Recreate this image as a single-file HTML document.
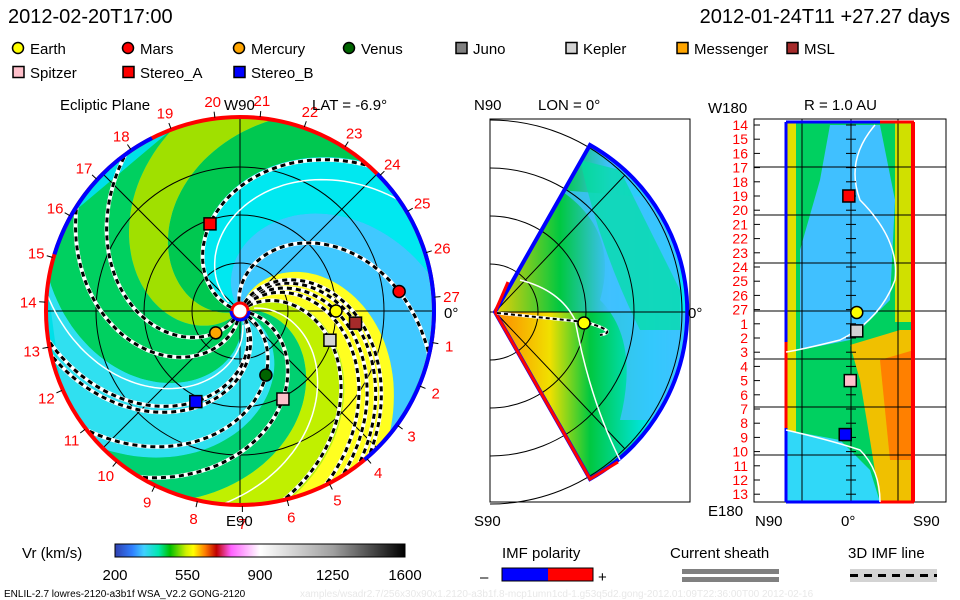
<!DOCTYPE html>
<html><head><meta charset="utf-8"><style>
body{margin:0;background:#fff;}
#wrap{position:relative;width:960px;height:600px;overflow:hidden;background:#fff;font-family:"Liberation Sans",sans-serif;}
svg text{font-family:"Liberation Sans",sans-serif;}
</style></head><body>
<div id="wrap">
<svg id="svg" width="960" height="600" viewBox="0 0 960 600" xmlns="http://www.w3.org/2000/svg">
<defs>
<clipPath id="diskClip"><circle cx="240" cy="311" r="193"/></clipPath>
<clipPath id="wedgeClip"><path d="M495,312 L590,145 A192,192 0 0 1 590,479 Z"/></clipPath>
<linearGradient id="cbar" x1="0" x2="1" y1="0" y2="0">
<stop offset="0" stop-color="#3040b0"/><stop offset="0.06" stop-color="#3080ff"/><stop offset="0.1" stop-color="#40d0ff"/><stop offset="0.15" stop-color="#00e8b0"/><stop offset="0.19" stop-color="#00c000"/><stop offset="0.245" stop-color="#d0f000"/><stop offset="0.27" stop-color="#ffff00"/><stop offset="0.31" stop-color="#ff8000"/><stop offset="0.35" stop-color="#c00000"/><stop offset="0.4" stop-color="#ff60ff"/><stop offset="0.5" stop-color="#ffffff"/><stop offset="0.75" stop-color="#a0a0a0"/><stop offset="1" stop-color="#000000"/>
</linearGradient>
<linearGradient id="midA" x1="0" x2="1" y1="0" y2="0"><stop offset="0" stop-color="#ffd000"/><stop offset="0.35" stop-color="#00c840"/><stop offset="0.6" stop-color="#40c0ff"/><stop offset="1" stop-color="#00e8f0"/></linearGradient>
<linearGradient id="midB" x1="0" x2="1" y1="0" y2="0"><stop offset="0" stop-color="#ff8000"/><stop offset="0.3" stop-color="#f0e000"/><stop offset="0.5" stop-color="#00c840"/><stop offset="0.8" stop-color="#00e8f0"/><stop offset="1" stop-color="#40c0ff"/></linearGradient>
</defs>
<g id="left"></g>
<g id="mid"></g>
<g id="right"></g>
<g id="legend"></g>
<g id="bottom"></g>
</svg>
</div>
<script>
// ---- data ----
const planetNames = ["Earth","Mars","Mercury","Venus","Juno","Kepler","Messenger","MSL","Spitzer","Stereo_A","Stereo_B"];
const planetColors = ["#ffff00","#ff0000","#ffa500","#006400","#808080","#d3d3d3","#ffa500","#a52a2a","#ffc0cb","#ff0000","#0000ff"];
const planetShapes = ["c","c","c","c","s","s","s","s","s","s","s"];
const planetR = [1.0,1.67,0.34,0.72,null,0.985,null,1.21,1.02,0.96,1.05];      // AU
const planetAngle = [0,7,222,-68,null,-18,null,-6,-64,109,244];               // deg
const bandStart = [-10,40,80,110,140,200,255,285,315];                          // deg at r=1.5AU
const bandEnd = [40,80,110,140,200,255,285,315,350];
const bandColors = ["#40c8ff","#00e8f0","#00c850","#a0e000","#00d060","#30e0f0","#00d070","#c0f000","#ffff20"];
const imfLineAngle = [0,7,222,-68,-64,-18,-6,109,244,-40,-30,160,200];        // deg at anchor
const imfLineR = [1.0,1.67,0.34,0.72,1.02,0.985,1.21,0.96,1.05,1.6,1.7,1.8,1.9];
const dayLabels = [1,2,3,4,5,6,7,8,9,10,11,12,13,14,15,16,17,18,19,20,21,22,23,24,25,26,27];
const rimBlue = [[117,163],[-50,45]];
const cbarTicks = [200,550,900,1250,1600];
const rowLabels = [14,15,16,17,18,19,20,21,22,23,24,25,26,27,1,2,3,4,5,6,7,8,9,10,11,12,13];
const rightMarkerLat = [8,null,null,null,null,8,null,null,-1,-3,-8];   // deg
const rightMarkerRow = [13.2,null,null,null,null,14.5,null,null,18.0,5.0,21.8];

const NS="http://www.w3.org/2000/svg";
function mk(tag,attrs,parent,txt){const e=document.createElementNS(NS,tag);for(const k in attrs)e.setAttribute(k,attrs[k]);if(txt!==undefined)e.textContent=txt;parent.appendChild(e);return e;}
const CX=240,CY=311,AU=96,K=57; // K deg per AU
const rad=d=>d*Math.PI/180;
const px=(r,a)=>CX+r*AU*Math.cos(rad(a));
const py=(r,a)=>CY-r*AU*Math.sin(rad(a));
function spiralPts(a0,r0,r1,n){const p=[];for(let i=0;i<=n;i++){const r=r0+(r1-r0)*i/n;const a=a0-K*r;p.push([px(r,a),py(r,a)]);}return p;}
const toD=p=>"M"+p.map(q=>q[0].toFixed(1)+","+q[1].toFixed(1)).join(" L");

// ---- left panel ----
const L=document.getElementById('left');
mk('circle',{cx:CX,cy:CY,r:193,fill:"#00e0e8"},L);
const bandG=mk('g',{'clip-path':'url(#diskClip)'},L);


for(let i=0;i<bandStart.length;i++){
  const a0=bandStart[i]+K*1.5, a1=bandEnd[i]+K*1.5;
  const e1=spiralPts(a0,0,2.2,60), e2=spiralPts(a1,0,2.2,60).reverse();
  const p=mk('path',{d:toD(e1.concat(e2))+"Z",fill:bandColors[i]},bandG);
  
  
}
// grid
const gridG=mk('g',{stroke:"#000","stroke-width":1,fill:"none"},L);


[0.5,1,1.5].forEach(r=>mk('circle',{cx:CX,cy:CY,r:r*AU},gridG));
[0,45,90,135].forEach(a=>mk('line',{x1:px(2,a),y1:py(2,a),x2:px(2,a+180),y2:py(2,a+180)},gridG));
// IMF lines
const imfG=mk('g',{'clip-path':'url(#diskClip)',fill:"none"},L);


for(let i=0;i<imfLineAngle.length;i++){
  const a0=imfLineAngle[i]+K*imfLineR[i];
  const d=toD(spiralPts(a0,0.1,2.05,60));
  mk('path',{d:d,stroke:"#fff","stroke-width":4},imfG);
  const b=mk('path',{d:d,stroke:"#000","stroke-width":3,"stroke-dasharray":"5,4"},imfG);
  
  
}
// white sector lines
[150,290,20].forEach((a,i)=>{const w=mk('path',{d:toD(spiralPts(a,0.15,2.05,60)),stroke:"#fff","stroke-width":1.5,fill:"none",'clip-path':'url(#diskClip)'},L);
  });
// rim
const rim=mk('circle',{cx:CX,cy:CY,r:194,fill:"none",stroke:"#ff0000","stroke-width":4},L);


rimBlue.forEach(s=>{const r=194;const x1=CX+r*Math.cos(rad(s[1])),y1=CY-r*Math.sin(rad(s[1])),x2=CX+r*Math.cos(rad(s[0])),y2=CY-r*Math.sin(rad(s[0]));
  const large=(s[1]-s[0])>180?1:0;
  const a=mk('path',{d:`M${x1},${y1} A${r},${r} 0 ${large} 1 ${x2},${y2}`,fill:"none",stroke:"#0000ff","stroke-width":4},L);
  });
// day labels + ticks
dayLabels.forEach(n=>{const a=4-13.33*n;const t=mk('text',{x:CX+212*Math.cos(rad(a)),y:CY-212*Math.sin(rad(a))+6,'text-anchor':'middle','font-size':15,fill:"#ff0000"},L,String(n));
  
  mk('line',{x1:CX+195*Math.cos(rad(a)),y1:CY-195*Math.sin(rad(a)),x2:CX+201*Math.cos(rad(a)),y2:CY-201*Math.sin(rad(a)),stroke:"#000"},L);});
// sun
const sun=mk('circle',{cx:CX,cy:CY,r:8,fill:"#fff",stroke:"#ff0000","stroke-width":3},L);


mk('path',{d:`M${CX-9},${CY} A9,9 0 0 0 ${CX+9},${CY}`,fill:"none",stroke:"#0000ff","stroke-width":3},L);
// planets
function marker(g,shape,x,y,col,name){let e;
  if(shape==="c")e=mk('circle',{cx:x,cy:y,r:6,fill:col,stroke:"#000","stroke-width":1.5},g);
  else e=mk('rect',{x:x-6,y:y-6,width:12,height:12,fill:col,stroke:"#000","stroke-width":1.5},g);
  
  
  return e;}
planetNames.forEach((n,i)=>{if(planetR[i]===null)return;marker(L,planetShapes[i],px(planetR[i],planetAngle[i]),py(planetR[i],planetAngle[i]),planetColors[i],'marker-'+n.toLowerCase());});
mk('text',{x:60,y:110,'font-size':15},L,"Ecliptic Plane");
mk('text',{x:224,y:110,'font-size':15},L,"W90");
mk('text',{x:312,y:110,'font-size':15},L,"LAT = -6.9°");
mk('text',{x:226,y:526,'font-size':15},L,"E90");
mk('text',{x:444,y:318,'font-size':15},L,"0°");

// ---- middle panel ----
const M=document.getElementById('mid');
mk('rect',{x:490,y:119,width:200,height:383,fill:"none",stroke:"#000"},M);
const wg=mk('g',{'clip-path':'url(#wedgeClip)'},M);
mk('rect',{x:490,y:140,width:200,height:172,fill:"url(#midA)"},wg);
mk('rect',{x:490,y:312,width:200,height:170,fill:"url(#midB)"},wg);
mk('path',{d:"M560,190 Q620,230 600,300 Q640,340 620,420 L680,420 L680,200 Z",fill:"#40c0ff",opacity:0.8},wg);
mk('path',{d:"M580,160 L620,170 L680,290 L680,330 L640,330 Q600,250 580,160 Z",fill:"#00e0a0",opacity:0.7},wg);
const mg=mk('g',{fill:"none",stroke:"#000"},M);

[48,96,144,192].forEach(r=>mk('path',{d:`M490,${312-r} A${r},${r} 0 0 1 490,${312+r}`},mg));
mk('line',{x1:490,y1:312,x2:690,y2:312},mg);
mk('line',{x1:495,y1:312,x2:625,y2:175},mg);
mk('line',{x1:495,y1:312,x2:625,y2:449},mg);
mk('path',{d:"M495,312 L590,145 A192,192 0 0 1 590,479 Z",fill:"none",stroke:"#0000ff","stroke-width":4},M);
mk('path',{d:"M495,312 L590,479 L618,462",fill:"none",stroke:"#ff0000","stroke-width":3},M);
mk('path',{d:"M495,312 L508,282",fill:"none",stroke:"#ff0000","stroke-width":3},M);
mk('path',{d:"M520,280 Q560,290 575,320 Q590,400 620,460",fill:"none",stroke:"#fff","stroke-width":1.5},M);
mk('path',{d:"M497,313 L585,322 Q620,332 600,335",fill:"none",stroke:"#fff","stroke-width":3},M);
mk('path',{d:"M497,313 L585,322 Q620,332 600,335",fill:"none",stroke:"#000","stroke-width":2,"stroke-dasharray":"4,3"},M);
marker(M,"c",584,323,"#ffff00",'mid-earth-marker');
mk('text',{x:474,y:110,'font-size':15},M,"N90");
mk('text',{x:538,y:110,'font-size':15},M,"LON = 0°");
mk('text',{x:474,y:526,'font-size':15},M,"S90");
mk('text',{x:688,y:318,'font-size':15},M,"0°");

// ---- right panel ----
const R=document.getElementById('right');
mk('rect',{x:754,y:119,width:192,height:383,fill:"none",stroke:"#000"},R);
const rb=mk('g',{},R);

mk('rect',{x:786,y:122,width:128,height:380,fill:"#00d060"},rb);
mk('rect',{x:786,y:122,width:10,height:380,fill:"#e0e000"},rb);
mk('path',{d:"M830,125 L880,125 L895,200 L890,300 L850,340 L800,350 L800,250 L820,180 Z",fill:"#40c0ff"},rb);
mk('path',{d:"M786,430 L840,440 L870,470 L880,502 L786,502 Z",fill:"#30d8f8"},rb);
mk('path',{d:"M850,345 L900,330 L914,330 L914,502 L880,502 L870,440 L860,380 Z",fill:"#f0c000"},rb);
mk('rect',{x:895,y:122,width:19,height:200,fill:"#d0e000"},rb);
mk('path',{d:"M880,360 L914,350 L914,460 L890,460 Z",fill:"#ff8000"},rb);
const rg=mk('g',{stroke:"#000",fill:"none"},R);

[802,851,898].forEach(x=>mk('line',{x1:x,y1:119,x2:x,y2:502},rg));
[167,215,263,311,359,407,455].forEach(y=>mk('line',{x1:754,y1:y,x2:946,y2:y},rg));
mk('line',{x1:786,y1:122,x2:786,y2:502,stroke:"#0000ff","stroke-width":3},R);
mk('line',{x1:786,y1:342,x2:786,y2:428,stroke:"#ff0000","stroke-width":3},R);
mk('line',{x1:786,y1:122,x2:880,y2:122,stroke:"#0000ff","stroke-width":3},R);
mk('line',{x1:880,y1:122,x2:914,y2:122,stroke:"#ff0000","stroke-width":3},R);
mk('line',{x1:786,y1:502,x2:880,y2:502,stroke:"#0000ff","stroke-width":3},R);
mk('line',{x1:880,y1:502,x2:914,y2:502,stroke:"#ff0000","stroke-width":3},R);
mk('line',{x1:913,y1:122,x2:913,y2:502,stroke:"#ff0000","stroke-width":4},R);
mk('path',{d:"M875,125 Q845,160 860,200 Q900,240 895,280 Q880,320 840,340 Q800,350 786,352",fill:"none",stroke:"#fff","stroke-width":1.5},R);
mk('path',{d:"M786,430 Q830,440 860,450 Q880,470 880,502",fill:"none",stroke:"#fff","stroke-width":1.5},R);
const rowY=n=>125+14.2*n;
const latX=l=>851+l*0.72;
rowLabels.forEach((lab,i)=>{const t=mk('text',{x:748,y:rowY(i)+5,'text-anchor':'end','font-size':14,fill:"#ff0000"},R,String(lab));
  
  mk('line',{x1:754,y1:rowY(i),x2:760,y2:rowY(i),stroke:"#000"},R);
  mk('line',{x1:846,y1:rowY(i),x2:856,y2:rowY(i),stroke:"#000"},R);});
planetNames.forEach((n,i)=>{if(rightMarkerRow[i]===null)return;marker(R,planetShapes[i],latX(rightMarkerLat[i]),rowY(rightMarkerRow[i]),planetColors[i],'sphere-marker-'+n.toLowerCase());});
mk('text',{x:804,y:110,'font-size':15},R,"R = 1.0 AU");
mk('text',{x:708,y:113,'font-size':15},R,"W180");
mk('text',{x:708,y:516,'font-size':15},R,"E180");
mk('text',{x:755,y:526,'font-size':15},R,"N90");
mk('text',{x:841,y:526,'font-size':15},R,"0°");
mk('text',{x:913,y:526,'font-size':15},R,"S90");

// ---- header & legend ----
const G=document.getElementById('legend');
mk('text',{x:8,y:23,'font-size':20},G,"2012-02-20T17:00");
mk('text',{x:950,y:23,'font-size':20,'text-anchor':'end'},G,"2012-01-24T11 +27.27 days");
const legX=[12,122,233,343,455,565,676,786,12,122,233];
const legY=[48,48,48,48,48,48,48,48,72,72,72];
planetNames.forEach((n,i)=>{const g=mk('g',{},G);
  
  
  if(planetShapes[i]==="c")mk('circle',{cx:legX[i]+6,cy:legY[i],r:5.5,fill:planetColors[i],stroke:"#000","stroke-width":1.5},g);
  else mk('rect',{x:legX[i]+1,y:legY[i]-5.5,width:11,height:11,fill:planetColors[i],stroke:"#000","stroke-width":1.5},g);
  mk('text',{x:legX[i]+18,y:legY[i]+6,'font-size':15},g,n);});

// ---- bottom ----
const B=document.getElementById('bottom');
mk('text',{x:22,y:558,'font-size':15},B,"Vr (km/s)");
mk('rect',{x:115,y:544,width:290,height:13,fill:"url(#cbar)",stroke:"#000"},B);
cbarTicks.forEach(v=>{const x=115+(v-200)/1400*290;const t=mk('text',{x:x,y:580,'font-size':15,'text-anchor':'middle'},B,String(v));
  });
mk('text',{x:4,y:597,'font-size':10},B,"ENLIL-2.7 lowres-2120-a3b1f WSA_V2.2 GONG-2120");
mk('text',{x:300,y:597,'font-size':10,fill:"#e8e8e8"},B,"xamples/wsadr2.7/256x30x90x1.2120-a3b1f.8-mcp1umn1cd-1.g53q5d2.gong-2012.01:09T22:36:00T00   2012-02-16");
mk('text',{x:502,y:558,'font-size':15},B,"IMF polarity");
mk('text',{x:480,y:582,'font-size':15},B,"–");
mk('rect',{x:502,y:568,width:46,height:13,fill:"#0000ff"},B);
mk('rect',{x:548,y:568,width:45,height:13,fill:"#ff0000"},B);
mk('rect',{x:502,y:568,width:91,height:13,fill:"none",stroke:"#000"},B);
mk('text',{x:598,y:582,'font-size':15},B,"+");
mk('text',{x:670,y:558,'font-size':15},B,"Current sheath");
mk('rect',{x:682,y:569,width:97,height:5,fill:"#808080"},B);
mk('rect',{x:682,y:577,width:97,height:5,fill:"#808080"},B);
mk('text',{x:848,y:558,'font-size':15},B,"3D IMF line");
mk('rect',{x:850,y:569,width:87,height:13,fill:"#d3d3d3"},B);
mk('line',{x1:850,y1:575.5,x2:937,y2:575.5,stroke:"#000","stroke-width":3,"stroke-dasharray":"8,6"},B);
</script>
</body></html>
